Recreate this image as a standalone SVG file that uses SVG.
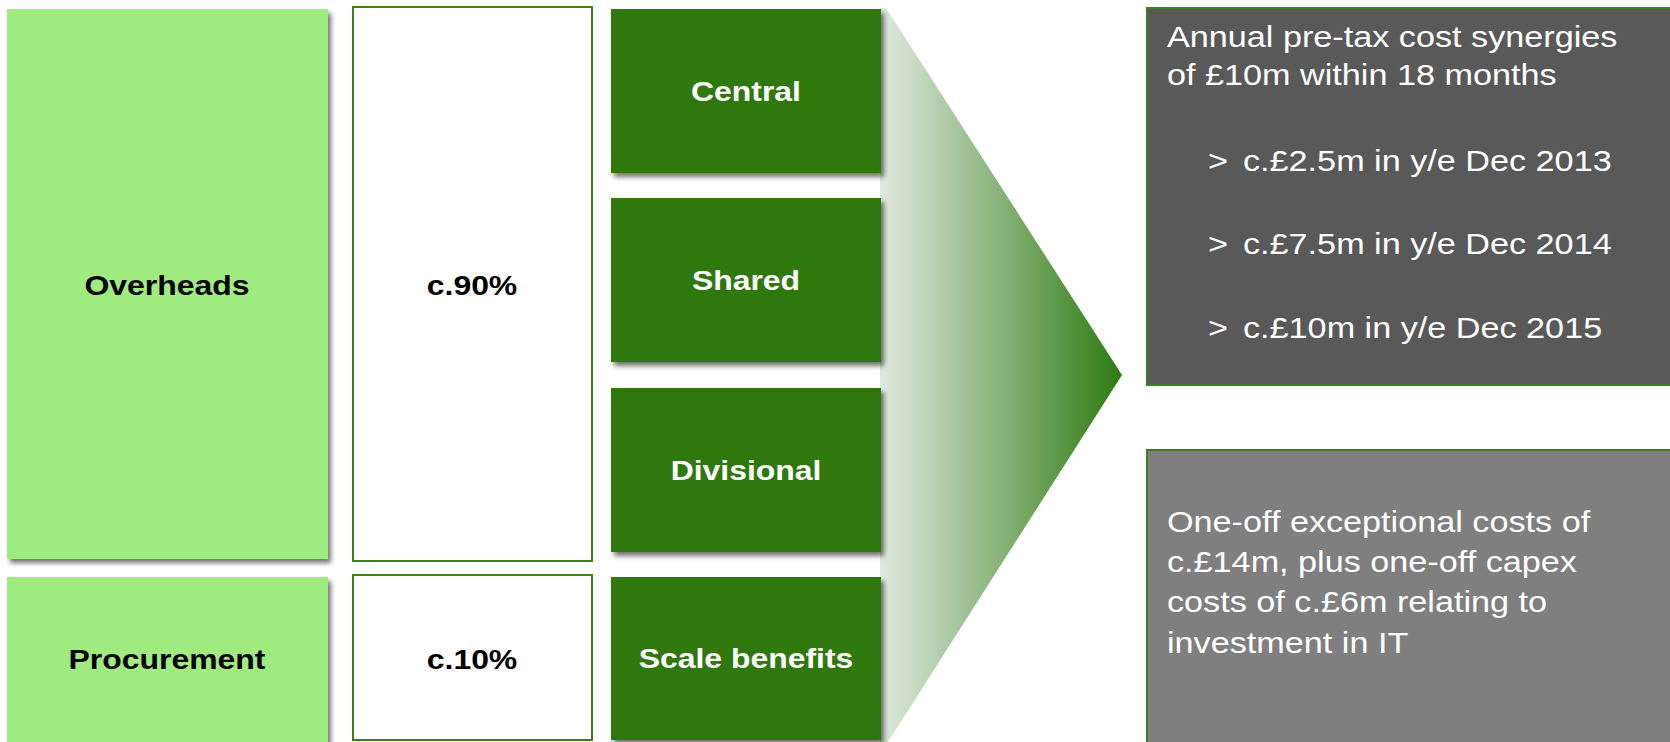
<svg xmlns="http://www.w3.org/2000/svg" width="1670" height="742" viewBox="0 0 1670 742">
<defs>
<style>
.lg{fill:#a0eb80;}
.wb{fill:#ffffff;stroke:#3d7f1f;stroke-width:2;}
.dg{fill:#2e7811;}
.bl{font-family:"Liberation Sans",Arial,sans-serif;font-weight:bold;font-size:28px;text-anchor:middle;}
.blk{fill:#000000;}
.wht{fill:#ffffff;}
.rt{font-family:"Liberation Sans",Arial,sans-serif;font-size:30px;fill:#ffffff;}
</style>
<filter id="sh" x="-10%" y="-10%" width="130%" height="130%">
<feGaussianBlur in="SourceAlpha" stdDeviation="2.5"/>
<feOffset dx="3" dy="4" result="b"/>
<feComponentTransfer><feFuncA type="linear" slope="0.55"/></feComponentTransfer>
<feMerge><feMergeNode/><feMergeNode in="SourceGraphic"/></feMerge>
</filter>
<linearGradient id="fg" x1="884" y1="0" x2="1122" y2="0" gradientUnits="userSpaceOnUse">
<stop offset="0" stop-color="#dde8dc"/>
<stop offset="1" stop-color="#2e7a12"/>
</linearGradient>
</defs>
<rect width="1670" height="742" fill="#ffffff"/>
<g id="funnel">
<polygon points="880,8 886,8 1122,375 888,742 880,742" fill="url(#fg)"/>
</g>
<g id="connectors"></g>
<g id="overheads">
<rect class="lg" x="7" y="9" width="321" height="550" filter="url(#sh)"/>
<text class="bl blk" transform="translate(167,295) scale(1.14,1)">Overheads</text>
</g>
<g id="procurement">
<rect class="lg" x="7" y="577" width="321" height="170" filter="url(#sh)"/>
<text class="bl blk" transform="translate(167,669) scale(1.14,1)">Procurement</text>
</g>
<g id="pct90">
<rect class="wb" x="353" y="7" width="239" height="554"/>
<text class="bl blk" transform="translate(472,295) scale(1.14,1)">c.90%</text>
</g>
<g id="pct10">
<rect class="wb" x="353" y="575" width="239" height="165"/>
<text class="bl blk" transform="translate(472,669) scale(1.14,1)">c.10%</text>
</g>
<g id="central">
<rect class="dg" x="611" y="9" width="270" height="164" filter="url(#sh)"/>
<text class="bl wht" transform="translate(746,101) scale(1.14,1)">Central</text>
</g>
<g id="shared">
<rect class="dg" x="611" y="198" width="270" height="164" filter="url(#sh)"/>
<text class="bl wht" transform="translate(746,290) scale(1.14,1)">Shared</text>
</g>
<g id="divisional">
<rect class="dg" x="611" y="388" width="270" height="164" filter="url(#sh)"/>
<text class="bl wht" transform="translate(746,480) scale(1.14,1)">Divisional</text>
</g>
<g id="scale">
<rect class="dg" x="611" y="577" width="270" height="163" filter="url(#sh)"/>
<text class="bl wht" transform="translate(746,668) scale(1.14,1)">Scale benefits</text>
</g>
<g id="synergies">
<rect x="1147" y="8" width="530" height="377" fill="#595959" stroke="#3d7f1f" stroke-width="2"/>
<text class="rt" transform="translate(1167,47) scale(1.14,1)">Annual pre-tax cost synergies</text>
<text class="rt" transform="translate(1167,85) scale(1.14,1)">of £10m within 18 months</text>
<text class="rt" transform="translate(1208,171) scale(1.14,1)">&gt;</text>
<text class="rt" transform="translate(1243,171) scale(1.14,1)">c.£2.5m in y/e Dec 2013</text>
<text class="rt" transform="translate(1208,254) scale(1.14,1)">&gt;</text>
<text class="rt" transform="translate(1243,254) scale(1.14,1)">c.£7.5m in y/e Dec 2014</text>
<text class="rt" transform="translate(1208,338) scale(1.14,1)">&gt;</text>
<text class="rt" transform="translate(1243,338) scale(1.14,1)">c.£10m in y/e Dec 2015</text>
</g>
<g id="oneoff">
<rect x="1147" y="450" width="530" height="300" fill="#7f7f7f" stroke="#3d7f1f" stroke-width="2"/>
<text class="rt" transform="translate(1167,532) scale(1.14,1)">One-off exceptional costs of</text>
<text class="rt" transform="translate(1167,572) scale(1.14,1)">c.£14m, plus one-off capex</text>
<text class="rt" transform="translate(1167,612) scale(1.14,1)">costs of c.£6m relating to</text>
<text class="rt" transform="translate(1167,653) scale(1.14,1)">investment in IT</text>
</g>
</svg>
